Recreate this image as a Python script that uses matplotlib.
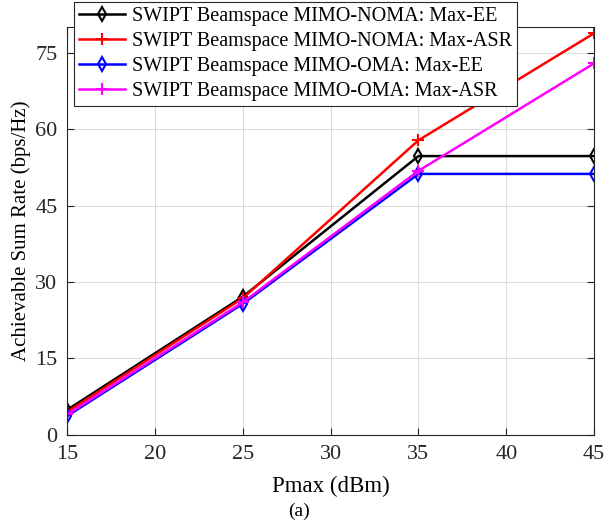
import matplotlib.pyplot as plt
import numpy as np

plt.rcParams['font.family'] = ['Liberation Serif', 'DejaVu Serif']
plt.rcParams['mathtext.fontset'] = 'stix'

# transmit power budget (dBm)
pmax = [15, 25, 35, 45]

# achievable sum rate (bps/Hz)
noma_max_ee = [4.9, 27.1, 54.7, 54.7]
noma_max_asr = [4.5, 26.8, 57.8, 78.8]
oma_max_ee = [3.7, 25.7, 51.2, 51.2]
oma_max_asr = [4.0, 26.0, 51.8, 72.9]

fig = plt.figure(figsize=(6.05, 5.22), dpi=100)
ax = fig.add_axes([0.111, 0.167, 0.871, 0.781])

ax.plot(pmax, noma_max_ee, color='black', marker='d', mfc='none', ms=7, mew=1.5, lw=1.8,
        label='SWIPT Beamspace MIMO-NOMA: Max-EE')
ax.plot(pmax, noma_max_asr, color='red', marker='+', ms=9, mew=1.5, lw=1.8,
        label='SWIPT Beamspace MIMO-NOMA: Max-ASR')
ax.plot(pmax, oma_max_ee, color='blue', marker='d', mfc='none', ms=7, mew=1.5, lw=1.8,
        label='SWIPT Beamspace MIMO-OMA: Max-EE')
ax.plot(pmax, oma_max_asr, color='magenta', marker='+', ms=9, mew=1.5, lw=1.8,
        label='SWIPT Beamspace MIMO-OMA: Max-ASR')

ax.set_xlim(15, 45)
ax.set_ylim(0, 80)
ax.set_xticks(np.arange(15, 46, 5))
ax.set_yticks(np.arange(0, 76, 15))
ax.tick_params(direction='in', top=True, right=True, labelsize=16, colors='#262626',
               length=5, pad=7)
for s in ax.spines.values():
    s.set_color('#262626')
    s.set_linewidth(0.8)
ax.grid(True, color='#dcdcdc', lw=0.8)
ax.set_axisbelow(True)

ax.set_xlabel('Pmax (dBm)', fontsize=16.5, labelpad=9)
ax.set_ylabel('Achievable Sum Rate (bps/Hz)', fontsize=15, labelpad=3)
fig.text(0.495, 0.012, '(a)', ha='center', fontsize=14)

leg = fig.legend(loc='upper left', bbox_to_anchor=(0.122, 0.997), fontsize=14.5,
                 handlelength=2.3, handletextpad=0.35, labelspacing=0.3,
                 borderpad=0.25, borderaxespad=0, fancybox=False, framealpha=1,
                 edgecolor='#262626')
leg.get_frame().set_linewidth(0.8)

fig.savefig('out.png', dpi=100)
